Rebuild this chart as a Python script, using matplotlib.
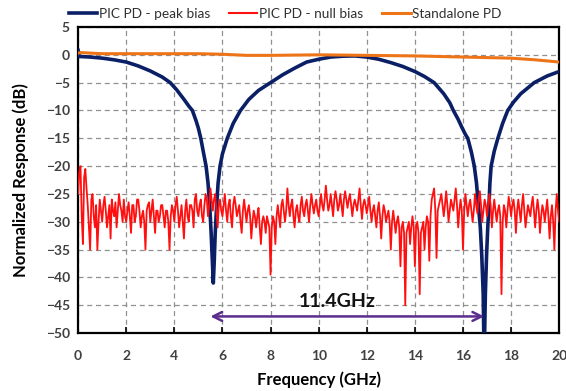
import matplotlib
matplotlib.use("Agg")
import matplotlib.pyplot as plt

plt.rcParams['font.family'] = ['Lato', 'DejaVu Sans']

# ---- data ----
peak_f = [0.0, 0.05, 0.5, 1.0, 1.5, 2.0, 2.5, 3.0, 3.5, 3.83, 4.1, 4.4, 4.6, 4.75, 4.9, 5.0, 5.1, 5.2,
          5.32, 5.4, 5.47, 5.53, 5.58, 5.62, 5.66, 5.7, 5.76, 5.82, 5.9, 6.0, 6.2, 6.45, 6.75, 7.1,
          7.5, 8.0, 8.5, 9.0, 9.5, 10.0, 10.5, 11.0, 11.5, 12.0, 12.5, 13.0, 13.5, 14.0, 14.4, 14.8,
          15.2, 15.45, 15.6, 15.8, 15.95, 16.1, 16.2, 16.35, 16.47, 16.56, 16.64, 16.72, 16.78, 16.84,
          16.88, 16.93, 16.98, 17.03, 17.08, 17.12, 17.17, 17.3, 17.45, 17.65, 17.86, 18.1, 18.4,
          18.96, 19.5, 20.0]
peak_db = [0.8, -0.3, -0.4, -0.6, -0.9, -1.3, -2.0, -2.9, -4.0, -5.0, -6.3, -8.0, -9.2, -10.0, -11.8,
           -13.2, -15.0, -17.3, -20.0, -23.0, -27.0, -32.0, -37.0, -41.0, -37.0, -32.0, -27.0, -23.0,
           -20.0, -17.8, -15.0, -12.3, -10.0, -8.0, -6.4, -5.0, -3.6, -2.4, -1.3, -0.8, -0.4, -0.25,
           -0.2, -0.4, -0.8, -1.4, -2.1, -3.0, -3.9, -5.0, -7.0, -8.6, -10.0, -11.6, -13.0, -14.3,
           -15.0, -17.5, -20.0, -23.0, -27.0, -31.0, -36.0, -43.0, -55.0, -43.0, -36.0, -31.0, -27.0,
           -23.0, -20.0, -17.3, -15.0, -12.3, -10.0, -8.5, -7.0, -5.0, -3.8, -3.0]

null_f = [round(0.05 * i, 2) for i in range(401)]
null_db = [
    -25, -21, -20, -29, -34, -22, -20.5, -24, -27, -31, -35, -26, -25, -29, -31, -27, -35, -30, -26, -28,
    -30, -27, -25.5, -28, -31, -29, -27, -33, -26, -28, -29, -26.5, -31, -28, -25, -27, -28, -30, -26, -29,
    -30, -28, -26.5, -29, -32, -27, -27, -30, -29, -26, -26, -28, -31, -29, -28, -30, -35, -28, -27, -26.5,
    -30, -28, -26, -29, -32, -28, -28, -30, -29, -27, -27, -29, -31, -28, -28, -30, -35, -29, -27, -28,
    -30, -27, -25.5, -28, -31, -29, -27, -30, -33, -28, -26, -29, -30, -27, -27, -28, -31, -26, -25, -28,
    -29, -27, -26, -29, -30, -27, -25, -26, -29, -27, -24, -26, -28, -26, -25, -28, -31, -27, -26, -28,
    -29, -27, -25, -28, -30, -27, -26, -29, -31, -27, -25.5, -27, -29, -28, -27, -30, -32, -28, -26, -28,
    -30, -28, -27, -29, -33, -30, -28, -29, -31, -29, -27.5, -31, -34, -30, -29, -30, -32, -29, -30, -31,
    -39.5, -31, -29, -30, -34, -29, -27, -29, -31, -27, -26, -28, -30, -28, -24, -27, -29, -27, -26, -29,
    -31, -28, -27, -29, -30, -27, -25.5, -28, -29, -27, -26, -28, -30, -27, -25, -27, -28.5, -27, -26, -28,
    -29, -27, -25, -27, -28, -26, -23.5, -26, -28, -27, -25, -27, -29, -26, -24.5, -26, -28, -27, -25, -27,
    -29, -26, -24.5, -26, -27.5, -26, -25, -27, -29, -27, -26, -27, -28, -26, -24, -27, -29.5, -27, -26, -27,
    -28.5, -27, -25.5, -28, -30, -28, -27, -29, -31, -28, -26.5, -29, -33, -29, -27, -28, -30, -29, -28, -30,
    -35, -30, -28, -30, -32, -30, -29, -31, -38, -31, -30, -32, -45, -32, -31, -30, -34, -31, -29, -31,
    -38, -31, -30, -32, -43, -32, -31, -30, -35, -31, -29, -30, -37, -29, -26, -25, -24, -28, -36.5, -28,
    -27, -26, -25, -27, -29, -27, -24.5, -27, -30, -28, -26, -27, -28, -26, -24, -27, -31, -28, -26, -28,
    -35, -28, -25, -27, -29, -27, -26, -28, -30, -28, -25, -27, -28.5, -26, -24.5, -27, -30, -28, -26, -27,
    -29, -27, -25, -27, -31, -28, -26, -28, -30, -28, -27, -29, -43, -30, -27, -28, -31, -28, -25.5, -27,
    -29, -27, -26, -28, -32, -28, -26, -28, -30, -27, -25, -28, -31, -29, -27, -28, -29, -27, -25.5, -28,
    -31, -28, -26, -28, -32, -29, -27, -28, -30, -28, -26, -29, -33, -29, -27, -30, -35, -28, -25, -28,
    -30]

stand_f = [0.0, 0.1, 1.0, 3.0, 5.0, 6.0, 7.0, 8.0, 10.0, 12.0, 14.0, 16.0, 18.0, 19.0, 19.5, 20.0]
stand_db = [0.3, 0.4, 0.2, 0.2, 0.2, 0.1, -0.1, -0.1, 0.0, -0.1, -0.2, -0.4, -0.6, -0.9, -1.1, -1.3]

labels = ["PIC PD - peak bias", "PIC PD - null bias", "Standalone PD"]
x_ticks = list(range(0, 21, 2))
y_ticks = list(range(-50, 6, 5))
arrow_start, arrow_end, arrow_level = 5.5, 16.88, -47
span_label = "11.4GHz"

# ---- figure ----
fig = plt.figure(figsize=(5.66, 3.91), dpi=100)
ax = fig.add_axes([0.138, 0.148, 0.850, 0.783])

navy = "#0B1F66"
ax.plot(peak_f, peak_db, color=navy, lw=2.6, label=labels[0], zorder=3)
ax.plot(null_f, null_db, color="#FF1010", lw=1.3, label=labels[1], zorder=4)
ax.plot(stand_f, stand_db, color="#EE7418", lw=2.2, label=labels[2], zorder=5)

ax.set_xlim(0, 20)
ax.set_ylim(-50, 5)
ax.set_xticks(x_ticks)
ax.set_yticks(y_ticks)
ax.grid(True, color="#909090", ls=(0, (4, 3)), lw=0.9)
ax.set_axisbelow(True)
for s in ax.spines.values():
    s.set_linewidth(1.6)
    s.set_color("black")
ax.tick_params(axis='x', direction='in', length=4, width=1.2, pad=12, labelsize=10, labelcolor="#404040")
ax.tick_params(axis='y', length=0, pad=6, labelsize=10, labelcolor="#404040")
for t in ax.get_xticklabels() + ax.get_yticklabels():
    t.set_fontweight('bold')

ax.set_xlabel("Frequency (GHz)", fontsize=12, fontweight='bold', labelpad=7)
ax.set_ylabel("Normalized Response (dB)", fontsize=12, fontweight='bold', labelpad=12)

ax.annotate("", xy=(arrow_start, arrow_level), xytext=(arrow_end, arrow_level),
            arrowprops=dict(arrowstyle="<->", color="#5B2D8E", lw=1.8, mutation_scale=16,
                            shrinkA=0, shrinkB=0), zorder=6)
ax.text((arrow_start + arrow_end) / 2 - 0.4, arrow_level + 2.6, span_label, ha='center', va='center',
        fontsize=14, fontweight='bold', color="#111111", zorder=7)

leg = ax.legend(ncol=3, frameon=False,
                loc='lower center', bbox_to_anchor=(0.43, 1.0), fontsize=9.8, handlelength=2.1,
                handletextpad=0.1, columnspacing=1.4, borderaxespad=0.1, labelcolor="#303030")
leg.get_lines()[1].set_linewidth(1.5)

fig.savefig("out.png", dpi=100)
